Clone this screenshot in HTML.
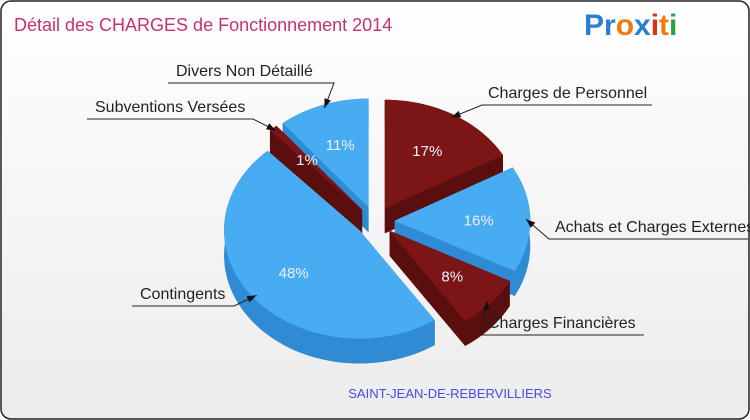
<!DOCTYPE html>
<html><head><meta charset="utf-8"><style>
body{margin:0;background:#fff}
#c{position:relative;width:750px;height:420px;overflow:hidden;font-family:"Liberation Sans",sans-serif}
</style></head><body>
<div id="c">
<svg id="s" width="750" height="420" xmlns="http://www.w3.org/2000/svg">
<defs><linearGradient id="bg" x1="0" y1="0" x2="0" y2="1"><stop offset="0" stop-color="#ffffff"/><stop offset="1" stop-color="#ececec"/></linearGradient></defs>
<rect x="1" y="1" width="748" height="418" rx="10" fill="url(#bg)" stroke="#222" stroke-width="1.5"/>
<text x="14" y="31" font-size="18" fill="#c8306e">Détail des CHARGES de Fonctionnement 2014</text>
<text x="584" y="35" font-size="30" font-weight="bold"><tspan fill="#2a7fd0">Pr</tspan><tspan fill="#f07a10">o</tspan><tspan fill="#2a7fd0">x</tspan><tspan fill="#e03010">i</tspan><tspan fill="#f07a10">t</tspan><tspan fill="#2aa040">i</tspan></text>
<g id="pie"></g>
<g id="lbl"></g>
<text x="450" y="398" font-size="13" text-anchor="middle" fill="#4a4ae8">SAINT-JEAN-DE-REBERVILLIERS</text>
</svg>
</div>
<script>
const categories=["Charges de Personnel","Achats et Charges Externes","Charges Financières","Contingents","Subventions Versées","Divers Non Détaillé"];
const values=[17,16,8,48,1,11];
const colorKeys=["red","blue","red","blue","red","blue"];
const NS="http://www.w3.org/2000/svg";
const pal={red:["#7c1616","#5a0e0e"],blue:["#48acf2","#2e8bd4"]};
const cx=375,cy=221,rx=135,ry=108,depth=25,ex=20;
const total=values.reduce((a,b)=>a+b,0);
const pie=document.getElementById('pie'),lbl=document.getElementById('lbl');
function pt(ox,oy,t,k){return [ox+rx*k*Math.sin(t),oy-ry*k*Math.cos(t)];}
let acc=0;const slices=[];
values.forEach((v,i)=>{const a1=acc/total*2*Math.PI;acc+=v;const a2=acc/total*2*Math.PI;const m=(a1+a2)/2;
 slices.push({i,a1,a2,m,ox:cx+ex*Math.sin(m),oy:cy-ex*0.75*Math.cos(m)});});
function arc(ox,oy,a1,a2,dy,rev){const n=Math.max(2,Math.ceil((a2-a1)*30));const p=[];for(let j=0;j<=n;j++){const t=a1+(a2-a1)*j/n;const q=pt(ox,oy,t,1);p.push([q[0],q[1]+dy]);}return rev?p.reverse():p;}
function poly(pts,fill,name){const e=document.createElementNS(NS,'path');e.setAttribute('d','M'+pts.map(p=>p[0].toFixed(1)+','+p[1].toFixed(1)).join('L')+'Z');e.setAttribute('fill',fill);e.setAttribute('stroke',fill);e.setAttribute('stroke-width','0.5');
 
 
 pie.appendChild(e);}
const order=slices.slice().sort((a,b)=>(-Math.cos(a.m))-(-Math.cos(b.m)));
order.forEach(s=>{const c=pal[colorKeys[s.i]];
 [s.a1,s.a2].forEach(a=>{const e=pt(s.ox,s.oy,a,1);poly([[s.ox,s.oy],e,[e[0],e[1]+depth],[s.ox,s.oy+depth]],c[1],'slice-side-'+s.i);});
 poly(arc(s.ox,s.oy,s.a1,s.a2,0,false).concat(arc(s.ox,s.oy,s.a1,s.a2,depth,true)),c[1],'slice-wall-'+s.i);
 poly([[s.ox,s.oy]].concat(arc(s.ox,s.oy,s.a1,s.a2,0,false)),c[0],'slice-'+s.i);
});
slices.forEach(s=>{const p=pt(s.ox,s.oy,s.m,0.62);const t=document.createElementNS(NS,'text');t.setAttribute('x',p[0]);t.setAttribute('y',p[1]+6);t.setAttribute('text-anchor','middle');t.setAttribute('font-size','15');t.setAttribute('fill','#eef');t.textContent=values[s.i]+'%';
 
 
 lbl.appendChild(t);});
const callouts=[[488,98,655,'start'],[555,232,750,'start'],[488,328,640,'start'],[140,299,90,'start'],[95,112,90,'start'],[176,76,170,'start']];
slices.forEach(s=>{const L=callouts[s.i];const e=pt(s.ox,s.oy,s.m,0.97);
 const tx=L[0],ty=L[1];const left=tx<cx;
 const g=document.createElementNS(NS,'g');
 
 
 const t=document.createElementNS(NS,'text');t.setAttribute('x',tx);t.setAttribute('y',ty);t.setAttribute('font-size','16');t.setAttribute('fill','#222');t.textContent=categories[s.i];g.appendChild(t);
 const lineY=ty+7;const x1=left?tx-8:tx-6;const x2=left?tx+categories[s.i].length*8+6:Math.min(748,tx+categories[s.i].length*8.2);
 const pl=document.createElementNS(NS,'polyline');const jx=left?x2:x1;
 pl.setAttribute('points',`${left?x1:x2},${lineY} ${jx},${lineY} ${e[0].toFixed(1)},${e[1].toFixed(1)}`);
 pl.setAttribute('fill','none');pl.setAttribute('stroke','#222');pl.setAttribute('stroke-width','1');g.appendChild(pl);
 const ang=Math.atan2(e[1]-lineY,e[0]-jx);const hx=e[0],hy=e[1];
 const ar=document.createElementNS(NS,'path');ar.setAttribute('d',`M${hx},${hy}L${hx-10*Math.cos(ang-0.35)},${hy-10*Math.sin(ang-0.35)}L${hx-10*Math.cos(ang+0.35)},${hy-10*Math.sin(ang+0.35)}Z`);ar.setAttribute('fill','#111');g.appendChild(ar);
 lbl.appendChild(g);});
</script>
</body></html>
